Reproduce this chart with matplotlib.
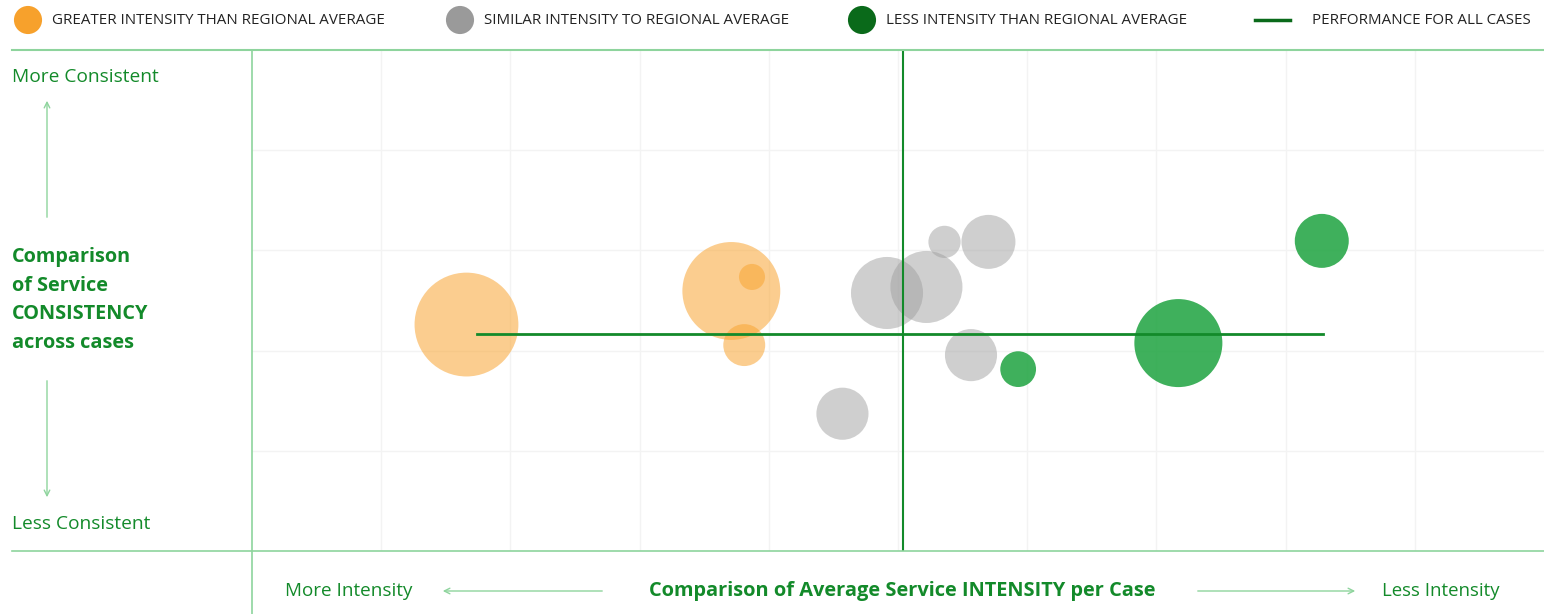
import matplotlib
matplotlib.use("Agg")
import matplotlib.pyplot as plt
from matplotlib.lines import Line2D

plt.rcParams['font.family'] = ['Open Sans', 'DejaVu Sans']

# ---- data ----
categories = ["greater", "greater", "greater", "greater",
              "similar", "similar", "similar", "similar", "similar", "similar",
              "less", "less", "less"]
intensity = [-3.34, -1.29, -1.13, -1.19, -0.085, 0.22, 0.36, 0.70, 0.565, -0.43, 0.93, 2.17, 3.28]
consistency = [-0.24, 0.095, 0.235, -0.445, 0.075, 0.135, 0.585, 0.585, -0.545, -1.13, -0.685, -0.425, 0.595]
cases = [270, 240, 17, 44, 130, 130, 26, 73, 68, 68, 32, 194, 73]

overall_x = [-3.26, 3.29]
overall_y = -0.335
overall_center_x = 0.04

legend_labels = ["GREATER INTENSITY THAN REGIONAL AVERAGE",
                 "SIMILAR INTENSITY TO REGIONAL AVERAGE",
                 "LESS INTENSITY THAN REGIONAL AVERAGE",
                 "PERFORMANCE FOR ALL CASES"]

fill_colors = {"greater": ("#F9A533", 0.55), "similar": ("#A0A0A0", 0.5), "less": ("#1DA33F", 0.85)}
legend_colors = ["#F7A12C", "#9A9A9A", "#0A6A1A"]

GREEN = "#138A2A"
LIGHT = "#8ED49D"

W, H = 1544, 614
fig = plt.figure(figsize=(W / 100, H / 100), dpi=100)

# main axes
ax = fig.add_axes([252 / W, 1 - 551 / H, (W - 252) / W, (551 - 50) / H])
ax.set_xlim(-5, 5)
ax.set_ylim(-2.5, 2.5)
for s in ax.spines.values():
    s.set_visible(False)
ax.set_xticks(range(-4, 5))
ax.set_yticks([-1.5, -0.5, 0.5, 1.5])
ax.tick_params(length=0, labelbottom=False, labelleft=False)
ax.grid(True, color="#F3F3F3", linewidth=1)
ax.set_axisbelow(True)

for c, x, y, n in zip(categories, intensity, consistency, cases):
    col, a = fill_colors[c]
    ax.scatter(x, y, s=n * 20.7, color=col, alpha=a, edgecolors='none', zorder=3)

ax.plot(overall_x, [overall_y, overall_y], color=GREEN, linewidth=2, zorder=4)
ax.axvline(overall_center_x, color=GREEN, linewidth=1.5, zorder=4)

# overlay for decorations in pixel coordinates
ov = fig.add_axes([0, 0, 1, 1], facecolor='none')
ov.set_xlim(0, W)
ov.set_ylim(H, 0)
ov.axis('off')

ov.add_line(Line2D([12, W], [50, 50], color=LIGHT, linewidth=1.5))
ov.add_line(Line2D([12, W], [551, 551], color=LIGHT, linewidth=1.2))
ov.add_line(Line2D([252, 252], [50, H], color=LIGHT, linewidth=1.2))

# legend
leg_x = [28, 460, 862]
for lx, lab, col in zip(leg_x, legend_labels[:3], legend_colors):
    ov.scatter([lx], [20], s=410, color=col, edgecolors='none')
    ov.text(lx + 24, 20, lab, fontsize=10.9, color="#222222", va='center', ha='left')
ov.add_line(Line2D([1255, 1290], [20, 20], color="#0A6A1A", linewidth=2.5))
ov.text(1312, 20, legend_labels[3], fontsize=10.9, color="#222222", va='center', ha='left')

# y-axis descriptors
ov.text(12, 77, "More Consistent", fontsize=13.8, color=GREEN, va='center', ha='left')
ov.text(12, 524, "Less Consistent", fontsize=13.8, color=GREEN, va='center', ha='left')
ov.text(12, 300, "Comparison\nof Service\nCONSISTENCY\nacross cases", fontsize=14.3,
        color=GREEN, fontweight='bold', va='center', ha='left', linespacing=1.57)
arrow_kw = dict(arrowstyle='->', color=LIGHT, lw=1, mutation_scale=10)
ov.annotate("", xy=(47, 98), xytext=(47, 220), arrowprops=arrow_kw)
ov.annotate("", xy=(47, 500), xytext=(47, 378), arrowprops=arrow_kw)

# x-axis descriptors
ov.text(285, 591, "More Intensity", fontsize=13.6, color=GREEN, va='center', ha='left')
ov.text(1500, 591, "Less Intensity", fontsize=13.4, color=GREEN, va='center', ha='right')
ov.text(902, 591, "Comparison of Average Service INTENSITY per Case", fontsize=14.4,
        color=GREEN, fontweight='bold', va='center', ha='center')
ov.annotate("", xy=(440, 591), xytext=(605, 591), arrowprops=arrow_kw)
ov.annotate("", xy=(1358, 591), xytext=(1195, 591), arrowprops=arrow_kw)

fig.savefig("out.png", dpi=100)
